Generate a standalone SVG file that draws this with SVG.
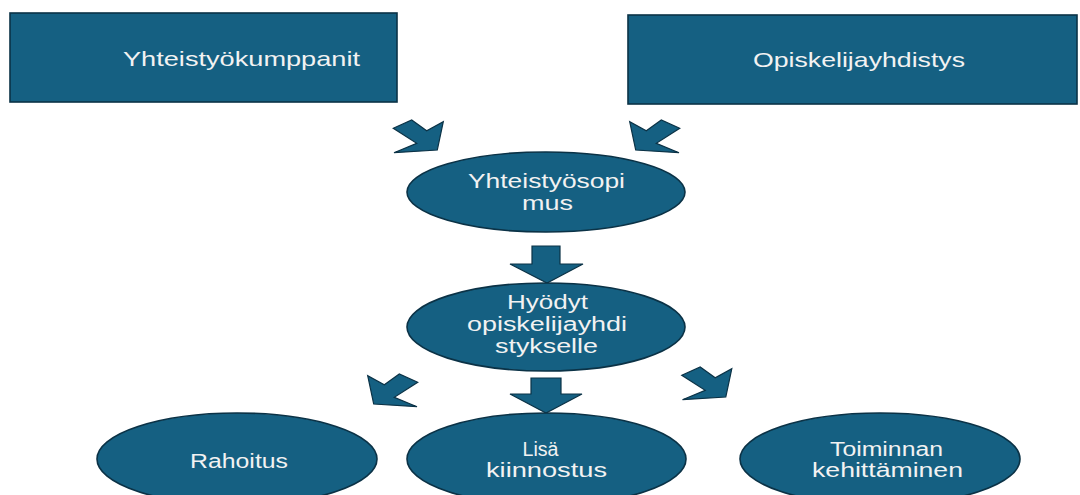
<svg xmlns="http://www.w3.org/2000/svg" width="1080" height="495" viewBox="0 0 1080 495">
<style>
.shape{fill:#156082;stroke:#0b3246;stroke-width:1.6}
.arrow{fill:#156082;stroke:#0b3246;stroke-width:1.2;stroke-linejoin:miter}
.t{font-family:"Liberation Sans",Arial,sans-serif;fill:#f2f2f2;text-anchor:middle}
.tb{font-size:21px}
.te{font-size:20px}
</style>
<defs>
<polygon id="arrDR" points="393.3,128.3 411.7,120 426.7,130.7 443.3,121.7 437.3,150 394,152.7 416.7,143.3"/>
<polygon id="arrDL" points="679.7,128.3 661.3,120 646.3,130.7 629.7,121.7 635.7,150 679,152.7 656.3,143.3"/>
</defs>
<rect width="1080" height="495" fill="#ffffff"/>
<g id="connectors">
<use href="#arrDR" class="arrow"/>
<use href="#arrDL" class="arrow"/>
<polygon class="arrow" points="532,246 560,246 560,264 583,264 547,283 510,264 532,264"/>
<use href="#arrDL" class="arrow" transform="translate(-262,254)"/>
<polygon class="arrow" points="531,378 561,378 561,394 582,394 546,413 510,394 531,394"/>
<use href="#arrDR" class="arrow" transform="translate(288.5,247)"/>
</g>
<g id="yhteistyokumppanit">
<rect class="shape" x="10" y="13" width="387" height="89"/>
<text class="t tb" x="241.5" y="66" textLength="237" lengthAdjust="spacingAndGlyphs">Yhteistyökumppanit</text>
</g>
<g id="opiskelijayhdistys">
<rect class="shape" x="628" y="15" width="449" height="89"/>
<text class="t tb" x="859" y="67" textLength="212" lengthAdjust="spacingAndGlyphs">Opiskelijayhdistys</text>
</g>
<g id="yhteistyosopimus">
<ellipse class="shape" cx="546" cy="192" rx="139" ry="40"/>
<text class="t te" x="546.5" y="188" textLength="157" lengthAdjust="spacingAndGlyphs">Yhteistyösopi</text>
<text class="t te" x="547.5" y="210" textLength="51" lengthAdjust="spacingAndGlyphs">mus</text>
</g>
<g id="hyodyt">
<ellipse class="shape" cx="546" cy="327" rx="139" ry="44"/>
<text class="t te" x="547.5" y="309" textLength="81" lengthAdjust="spacingAndGlyphs">Hyödyt</text>
<text class="t te" x="547" y="331" textLength="160" lengthAdjust="spacingAndGlyphs">opiskelijayhdi</text>
<text class="t te" x="546.5" y="353" textLength="103" lengthAdjust="spacingAndGlyphs">stykselle</text>
</g>
<g id="rahoitus">
<ellipse class="shape" cx="237" cy="459" rx="140" ry="46"/>
<text class="t te" x="239" y="468" textLength="98" lengthAdjust="spacingAndGlyphs">Rahoitus</text>
</g>
<g id="lisa-kiinnostus">
<ellipse class="shape" cx="546.5" cy="459" rx="139.5" ry="46"/>
<text class="t te" x="540.5" y="456" textLength="36" lengthAdjust="spacingAndGlyphs">Lisä</text>
<text class="t te" x="546.5" y="477" textLength="121" lengthAdjust="spacingAndGlyphs">kiinnostus</text>
</g>
<g id="toiminnan-kehittaminen">
<ellipse class="shape" cx="880" cy="459" rx="140" ry="46"/>
<text class="t te" x="886.5" y="456" textLength="113" lengthAdjust="spacingAndGlyphs">Toiminnan</text>
<text class="t te" x="887.5" y="477" textLength="151" lengthAdjust="spacingAndGlyphs">kehittäminen</text>
</g>
</svg>
